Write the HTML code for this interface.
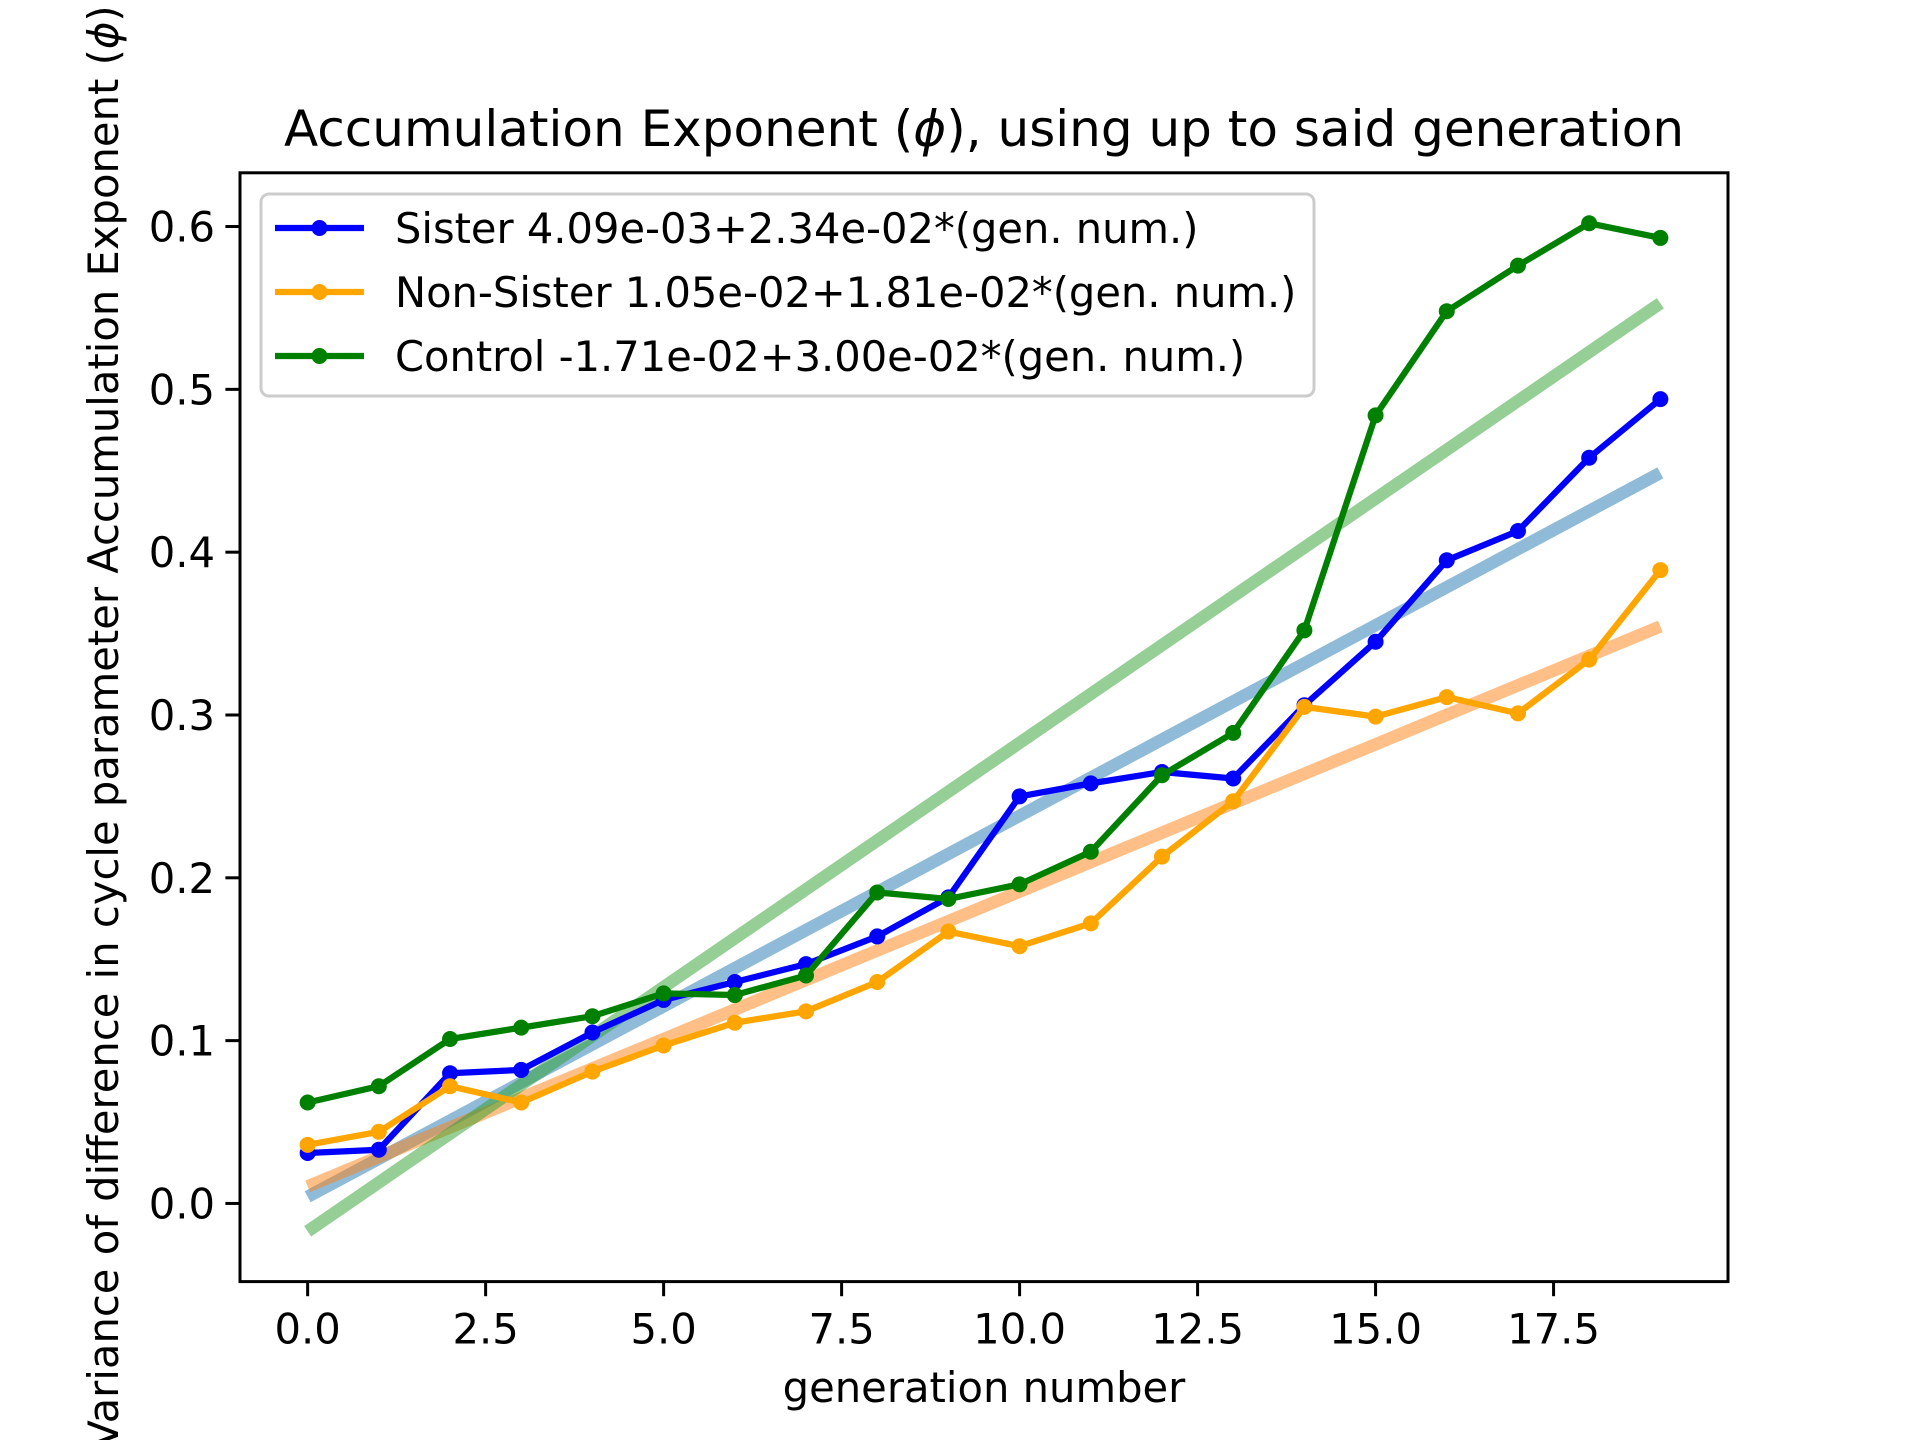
<!DOCTYPE html>
<html><head><meta charset="utf-8"><style>
html,body{margin:0;padding:0;background:#fff}
svg{display:block;font-family:"DejaVu Sans","Liberation Sans",sans-serif}
</style></head><body>
<svg id="chart" width="1920" height="1440" viewBox="0 0 1920 1440">
<rect width="1920" height="1440" fill="#fff"/>
<text x="984" y="146" font-size="50" text-anchor="middle">Accumulation Exponent (<tspan font-style="italic">ϕ</tspan>), using up to said generation</text>
<g id="fits"></g>
<g id="series"></g>
<rect x="240" y="172.8" width="1488" height="1108.8" fill="none" stroke="#000" stroke-width="3"/>
<g id="xticks"></g>
<g id="yticks"></g>
<text x="984" y="1402" font-size="41.7" text-anchor="middle">generation number</text>
<text transform="translate(118,727) rotate(-90)" font-size="41.7" text-anchor="middle">Variance of difference in cycle parameter Accumulation Exponent (<tspan font-style="italic">ϕ</tspan>)</text>
<g id="legend">
<rect x="261" y="194" width="1053" height="202" rx="8" fill="#fff" fill-opacity="0.8" stroke="#ccc" stroke-width="3"/>
</g>
</svg>
<script>
const generations = [0,1,2,3,4,5,6,7,8,9,10,11,12,13,14,15,16,17,18,19];
const sisterValues = [0.031,0.033,0.080,0.082,0.105,0.125,0.136,0.147,0.164,0.188,0.250,0.258,0.265,0.261,0.306,0.345,0.395,0.413,0.458,0.494];
const nonSisterValues = [0.036,0.044,0.072,0.062,0.081,0.097,0.111,0.118,0.136,0.167,0.158,0.172,0.213,0.247,0.305,0.299,0.311,0.301,0.334,0.389];
const controlValues = [0.062,0.072,0.101,0.108,0.115,0.129,0.128,0.140,0.191,0.187,0.196,0.216,0.263,0.289,0.352,0.484,0.548,0.576,0.602,0.593];
const fitIntercepts = [0.00409,0.0105,-0.0171];
const fitSlopes = [0.0234,0.0181,0.0300];
const seriesLabels = ["Sister 4.09e-03+2.34e-02*(gen. num.)","Non-Sister 1.05e-02+1.81e-02*(gen. num.)","Control -1.71e-02+3.00e-02*(gen. num.)"];
const xTickValues = [0,2.5,5,7.5,10,12.5,15,17.5];
const xTickLabels = ["0.0","2.5","5.0","7.5","10.0","12.5","15.0","17.5"];
const yTickValues = [0,0.1,0.2,0.3,0.4,0.5,0.6];
const yTickLabels = ["0.0","0.1","0.2","0.3","0.4","0.5","0.6"];

const NS="http://www.w3.org/2000/svg";
const X0=240,X1=1728,Y0=1281.6,Y1=172.8;
const xmin=-0.95,xmax=19.95,ymin=-0.048,ymax=0.633;
const sx=v=>X0+(v-xmin)/(xmax-xmin)*(X1-X0);
const sy=v=>Y0-(v-ymin)/(ymax-ymin)*(Y0-Y1);
function mk(tag,attrs,parent){const e=document.createElementNS(NS,tag);for(const k in attrs)e.setAttribute(k,attrs[k]);parent.appendChild(e);return e;}
const colors=["#0000ff","#ffa500","#008000"];
const fitColors=["#1f77b4","#ff7f0e","#2ca02c"];
const all=[sisterValues,nonSisterValues,controlValues];
const names=["sister","non-sister","control"];
const fits=document.getElementById('fits');
const series=document.getElementById('series');
all.forEach((vals,i)=>{
  const g0=generations[0],g1=generations[generations.length-1];
  const fl=mk('line',{x1:sx(g0),y1:sy(fitIntercepts[i]+fitSlopes[i]*g0),x2:sx(g1),y2:sy(fitIntercepts[i]+fitSlopes[i]*g1),stroke:fitColors[i],'stroke-opacity':0.5,'stroke-width':12.5},fits);
  
  
});
all.forEach((vals,i)=>{
  const g=mk('g',{},series);
  
  
  const pts=vals.map((v,j)=>sx(generations[j])+','+sy(v)).join(' ');
  const pl=mk('polyline',{points:pts,fill:'none',stroke:colors[i],'stroke-width':6.25,'stroke-linejoin':'round'},g);
  
  
  vals.forEach((v,j)=>{
    const c=mk('circle',{cx:sx(generations[j]),cy:sy(v),r:8,fill:colors[i]},g);
    
    
  });
});
const xt=document.getElementById('xticks');
xTickValues.forEach((v,i)=>{
  const x=sx(v);
  const l=mk('line',{x1:x,y1:Y0,x2:x,y2:Y0+14.6,stroke:'#000','stroke-width':3},xt);
  
  
  const t=mk('text',{x:x,y:Y0+62,'font-size':41.7,'text-anchor':'middle'},xt);
  t.textContent=xTickLabels[i];
  
  
});
const yt=document.getElementById('yticks');
yTickValues.forEach((v,i)=>{
  const y=sy(v);
  const l=mk('line',{x1:X0-14.6,y1:y,x2:X0,y2:y,stroke:'#000','stroke-width':3},yt);
  
  
  const t=mk('text',{x:X0-25,y:y+15,'font-size':41.7,'text-anchor':'end'},yt);
  t.textContent=yTickLabels[i];
  
  
});
const lg=document.getElementById('legend');
seriesLabels.forEach((s,i)=>{
  const y=228+i*64;
  const l=mk('line',{x1:275,y1:y,x2:364,y2:y,stroke:colors[i],'stroke-width':6.25},lg);
  
  
  const c=mk('circle',{cx:319.5,cy:y,r:8,fill:colors[i]},lg);
  
  
  const t=mk('text',{x:395,y:y+15,'font-size':41.6},lg);
  t.textContent=s;
  
  
});
</script>
</body></html>
